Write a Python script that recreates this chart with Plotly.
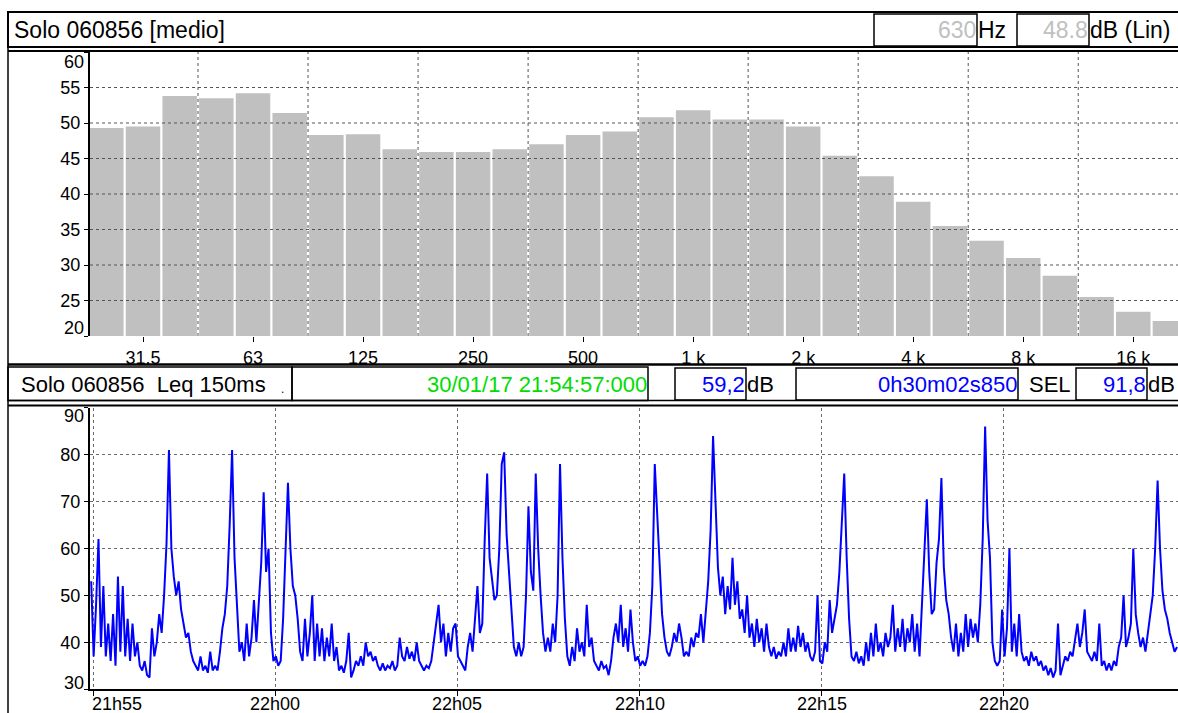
import plotly.graph_objects as go
import pandas as pd

W, H = 1178, 713

# 1/3-octave spectrum, Leq per band (dB, linear weighting)
band_labels = ["25", "31.5", "40", "50", "63", "80", "100", "125", "160", "200",
               "250", "315", "400", "500", "630", "800", "1 k", "1.25 k", "1.6 k", "2 k",
               "2.5 k", "3.15 k", "4 k", "5 k", "6.3 k", "8 k", "10 k", "12.5 k", "16 k", "20 k"]
band_levels = [49.3, 49.5, 53.8, 53.5, 54.2, 51.4, 48.3, 48.4, 46.3, 45.9,
               45.9, 46.3, 47.0, 48.3, 48.8, 50.8, 51.8, 50.5, 50.5, 49.5,
               45.4, 42.5, 38.9, 35.5, 33.4, 31.0, 28.5, 25.5, 23.4, 22.1]
octave_ticks = ["31.5", "63", "125", "250", "500", "1 k", "2 k", "4 k", "8 k", "16 k"]
cursor_band = "630"
spec_ticks = [20, 25, 30, 35, 40, 45, 50, 55, 60]

# Leq 150 ms time history, one reading every 4 s from the start time
start_time = "2017-01-30 21:54:57"
step_s = 4
leq = [
    53, 37, 48, 62, 39, 52, 37, 44, 36, 46,
    35, 54, 38, 52, 37, 45, 36, 44, 37, 40,
    35, 34, 36, 33, 32.5, 43, 37, 40, 46, 42,
    50, 61, 81, 60, 54, 50, 53, 47, 44, 41,
    42, 38, 36, 35, 34, 37, 34, 35, 33.5, 38,
    34, 35, 34, 38, 43, 46, 52, 65, 81, 58,
    47, 38, 40, 36, 44, 37, 41, 49, 40, 48,
    57, 72, 55, 60, 42, 36, 37, 35, 36, 45,
    60, 74, 60, 52, 50, 45, 38, 36, 45, 37,
    42, 50, 36, 44, 37, 43, 36, 41, 37, 44,
    36, 39, 34, 35, 33.5, 36, 42, 32.5, 34, 36,
    35, 37, 35, 40, 37, 38, 36, 37, 35, 34,
    35.5, 34, 35, 34.5, 36, 34, 35, 41, 37, 36,
    39, 36.5, 38, 36, 40, 36, 35, 34, 35, 34.5,
    36, 40, 44, 48, 40, 44, 37, 42, 38, 43,
    44, 37, 36, 35, 34, 39, 42, 38, 46, 52,
    42, 44, 62, 76, 58, 53, 49, 50, 60, 78,
    80.5, 63, 55, 45, 39, 37, 40, 37, 39, 50,
    69, 55, 51, 76, 60, 50, 42, 38, 41, 38,
    44, 40, 50, 78, 58, 45, 37, 35, 39, 36,
    43, 38, 40, 37, 48, 39, 41, 36, 35, 34,
    36, 34.5, 35, 33, 36, 41, 44, 40, 48, 39,
    43, 38, 47, 40, 36, 37, 35, 36, 35, 37,
    42, 52, 78, 68, 55, 46, 41, 38, 37, 39,
    42, 40, 44, 41, 37, 38, 37, 41, 39, 42,
    41, 46, 40, 47, 53, 64, 84, 70, 56, 50,
    54, 46, 52, 47, 58, 48, 53, 45, 47, 42,
    50, 41, 44, 39, 45, 40, 43, 38, 44, 39,
    37, 39, 36.5, 38, 37, 40, 37, 43, 38, 41,
    38, 43.5, 39, 42, 38, 40, 37, 36, 38, 50,
    36, 35.5, 40, 38, 49, 42, 45, 48, 55, 65,
    76, 58, 45, 37, 36, 38, 35.5, 37, 35, 40,
    36, 42, 37, 44, 38, 40, 37, 42, 39, 41,
    48, 38, 43, 39, 45, 38, 43, 40, 46, 38,
    44, 37, 48, 62, 70.5, 55, 46, 47, 57, 62,
    75, 56, 49, 46, 41, 38, 44, 37, 42, 38,
    46, 39, 45, 41, 44, 40, 48, 62, 86, 66,
    58, 40, 36, 35, 36, 47, 37, 43, 60, 38,
    44, 37, 46, 38, 36, 37, 35, 38, 36, 37,
    35, 36, 34, 35, 33, 34.5, 32.5, 34, 44, 33,
    35, 37, 36, 38, 37, 41, 44, 39, 42, 47,
    38, 37, 36, 38, 36, 44, 35, 36, 34, 35.5,
    34, 36, 35, 39, 41, 50, 39, 41, 44, 60,
    46, 42, 39, 41, 38, 42, 46, 50, 60, 74.5,
    60, 51, 47, 45, 42, 40, 38, 39,
]
time_ticks = ["2017-01-30 21:55:00", "2017-01-30 22:00:00", "2017-01-30 22:05:00",
              "2017-01-30 22:10:00", "2017-01-30 22:15:00", "2017-01-30 22:20:00"]
time_labels = ["21h55", "22h00", "22h05", "22h10", "22h15", "22h20"]
leq_ticks = [30, 40, 50, 60, 70, 80, 90]

# header readouts
spec_title = "Solo 060856 [medio]"
cursor_freq = "630"
cursor_level = "48.8"
hist_title = "Solo 060856\u00a0 Leq 150ms"
cursor_time = "30/01/17 21:54:57:000"
cursor_leq = "59,2"
duration = "0h30m02s850"
sel_value = "91,8"

FONT = "Liberation Sans, Arial, sans-serif"
BLUE = "#0000ff"
GREEN = "#00dd00"
GREY_TXT = "#c0c0c0"


def px(x):
    return x / W


def py(y):
    return 1 - y / H


times = pd.date_range(start=start_time, periods=len(leq), freq=f"{step_s}s")
t0 = pd.Timestamp(start_time)

fig = go.Figure()
fig.add_trace(go.Bar(x=band_labels, y=band_levels, marker=dict(color="#c0c0c0", line=dict(width=0)),
                     width=0.94, xaxis="x", yaxis="y", hoverinfo="x+y"))
fig.add_trace(go.Scatter(x=times, y=leq, mode="lines", line=dict(color=BLUE, width=2),
                         xaxis="x2", yaxis="y2"))

fig.update_layout(
    width=W, height=H, margin=dict(l=0, r=0, t=0, b=0, autoexpand=False),
    paper_bgcolor="white", plot_bgcolor="white", showlegend=False,
    font=dict(family=FONT, color="black", size=18),
    xaxis=dict(domain=[px(90), 1], anchor="y", type="category", range=[-0.445, 29.22],
               tickmode="array", tickvals=octave_ticks, ticktext=octave_ticks,
               ticks="outside", ticklen=5, tickcolor="black", tickfont=dict(size=18),
               showgrid=False, showline=False, zeroline=False, automargin=False),
    yaxis=dict(domain=[py(336), py(52)], anchor="x", range=[20, 60],
               tickmode="array", tickvals=spec_ticks,
               ticktext=["" if v in (20, 60) else str(v) for v in spec_ticks],
               ticks="outside", ticklen=4, tickcolor="black", tickfont=dict(size=18),
               showgrid=False, showline=True, linewidth=2, linecolor="black", zeroline=False,
               automargin=False),
    xaxis2=dict(domain=[px(90), 1], anchor="y2", type="date",
                range=[t0 - pd.Timedelta(seconds=2), t0 + pd.Timedelta(seconds=1789.6)],
                tickmode="array", tickvals=time_ticks, ticktext=[""] * len(time_ticks),
                ticks="outside", ticklen=5, tickcolor="black",
                showgrid=True, gridcolor="#6a6a6a", griddash="dot", gridwidth=1,
                showline=True, linewidth=2, linecolor="black", zeroline=False, automargin=False),
    yaxis2=dict(domain=[py(689.2), py(407.8)], anchor="x2", range=[30, 90],
                tickmode="array", tickvals=leq_ticks,
                ticktext=["" if v in (30, 90) else str(v) for v in leq_ticks],
                ticks="outside", ticklen=4, tickcolor="black", tickfont=dict(size=18),
                showgrid=True, gridcolor="#6a6a6a", griddash="dot", gridwidth=1,
                showline=True, linewidth=2, linecolor="black", zeroline=False, automargin=False),
)

shapes = []
# spectrum grid, drawn over the bars
for v in spec_ticks[1:-1]:
    shapes.append(dict(type="line", xref="x domain", yref="y", x0=0, x1=1, y0=v, y1=v,
                       line=dict(color="#555555", width=1, dash="dot"), layer="above"))
for k in range(9):
    xv = 2.5 + 3 * k
    shapes.append(dict(type="line", xref="x", yref="y", x0=xv, x1=xv, y0=20, y1=60,
                       line=dict(color="#555555", width=1, dash="dot"), layer="above"))
# cursor on the selected band
shapes.append(dict(type="line", xref="x", yref="y", x0=cursor_band, x1=cursor_band, y0=20, y1=60,
                   line=dict(color="black", width=1.5), layer="above"))


def frame(x0, y0, x1, y1, w=1.5):
    shapes.append(dict(type="rect", xref="paper", yref="paper", x0=px(x0), x1=px(x1),
                       y0=py(y1), y1=py(y0), line=dict(color="black", width=w), fillcolor="rgba(0,0,0,0)"))


def hline(y, x0=8, x1=W + 5, w=2):
    shapes.append(dict(type="line", xref="paper", yref="paper", x0=px(x0), x1=px(x1),
                       y0=py(y), y1=py(y), line=dict(color="black", width=w)))


# outer panel borders
shapes.append(dict(type="line", xref="paper", yref="paper", x0=px(8), x1=px(8), y0=py(12), y1=py(H + 5),
                   line=dict(color="black", width=1.5)))
frame(8, 12, W + 5, 47, 2)
hline(51)
frame(874, 14, 977, 46)
frame(1017, 14, 1089, 46)
hline(364.5, w=2.5)
frame(8, 367, 292, 400.5)
frame(292, 367, 648, 400.5)
frame(675, 368, 746, 400)
frame(796, 368, 1018, 400)
frame(1076, 368, 1147, 400)
hline(400.5, w=1.5)
hline(405.5, x0=8, w=2)

fig.update_layout(shapes=shapes)

anns = []


def text(s, x, y, anchor="left", color="black", size=22):
    anns.append(dict(text=s, xref="paper", yref="paper", x=px(x), y=py(y), xanchor=anchor,
                     yanchor="middle", showarrow=False, font=dict(size=size, color=color, family=FONT)))


text(spec_title, 12, 30, size=23)
text(cursor_freq, 978, 30, "right", GREY_TXT, 23)
text("Hz", 976, 30, size=23)
text(cursor_level, 1090, 30, "right", GREY_TXT, 23)
text("dB (Lin)", 1088, 30, size=23)
text(hist_title, 19, 384, size=22)
text(".", 279, 389, size=12)
text(cursor_time, 649, 384, "right", GREEN, 22)
text(cursor_leq, 747, 384, "right", BLUE, 22)
text("dB", 745, 384, size=22)
text(duration, 1019, 384, "right", BLUE, 22)
text("SEL", 1027, 384, size=22)
text(sel_value, 1148, 384, "right", BLUE, 22)
text("dB", 1146, 384, size=22)
# end labels of the value axes, pulled inside the frame
text("60", 86, 62, "right", size=18)
text("20", 86, 328, "right", size=18)
text("90", 86, 416, "right", size=18)
text("30", 86, 683, "right", size=18)
# time labels under the ticks; the first one is kept inside the frame
for i, (tv, lab) in enumerate(zip(time_ticks, time_labels)):
    anns.append(dict(text=lab, xref="x2", yref="paper", x=tv, y=py(692),
                     xanchor="left" if i == 0 else "center", yanchor="top",
                     xshift=-3 if i == 0 else 0, showarrow=False,
                     font=dict(size=18, family=FONT, color="black")))
fig.update_layout(annotations=anns)

fig.write_html("out.html")
